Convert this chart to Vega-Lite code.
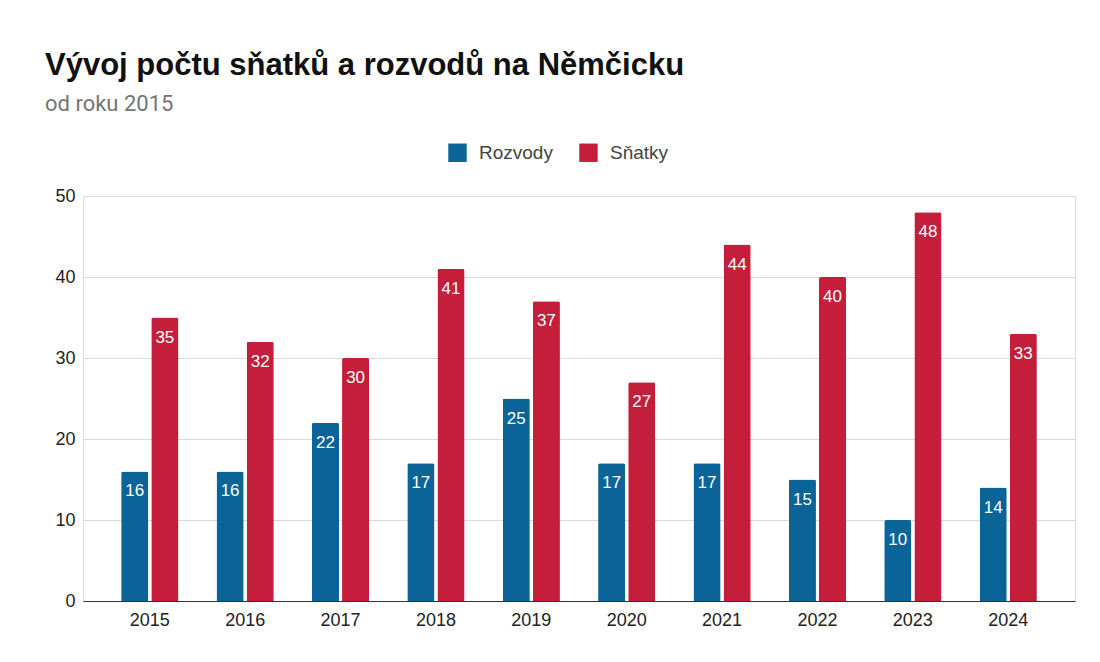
{
  "$schema": "https://vega.github.io/schema/vega-lite/v6.json",
  "autosize": "none",
  "width": 992,
  "height": 405,
  "padding": {"left": 83, "top": 196, "right": 25, "bottom": 61},
  "background": "white",
  "title": {
    "text": "Vývoj počtu sňatků a rozvodů na Němčicku",
    "subtitle": "od roku 2015",
    "anchor": "start",
    "frame": "group",
    "dx": -38,
    "offset": 27,
    "font": "Liberation Sans",
    "fontSize": 31,
    "fontWeight": "bold",
    "color": "#111111",
    "subtitleFont": "Roboto",
    "subtitleFontSize": 22,
    "subtitleColor": "#757575",
    "subtitlePadding": 12
  },
  "data": {
    "values": [
      {"rok": "2015", "typ": "Rozvody", "pocet": 16},
      {"rok": "2015", "typ": "Sňatky", "pocet": 35},
      {"rok": "2016", "typ": "Rozvody", "pocet": 16},
      {"rok": "2016", "typ": "Sňatky", "pocet": 32},
      {"rok": "2017", "typ": "Rozvody", "pocet": 22},
      {"rok": "2017", "typ": "Sňatky", "pocet": 30},
      {"rok": "2018", "typ": "Rozvody", "pocet": 17},
      {"rok": "2018", "typ": "Sňatky", "pocet": 41},
      {"rok": "2019", "typ": "Rozvody", "pocet": 25},
      {"rok": "2019", "typ": "Sňatky", "pocet": 37},
      {"rok": "2020", "typ": "Rozvody", "pocet": 17},
      {"rok": "2020", "typ": "Sňatky", "pocet": 27},
      {"rok": "2021", "typ": "Rozvody", "pocet": 17},
      {"rok": "2021", "typ": "Sňatky", "pocet": 44},
      {"rok": "2022", "typ": "Rozvody", "pocet": 15},
      {"rok": "2022", "typ": "Sňatky", "pocet": 40},
      {"rok": "2023", "typ": "Rozvody", "pocet": 10},
      {"rok": "2023", "typ": "Sňatky", "pocet": 48},
      {"rok": "2024", "typ": "Rozvody", "pocet": 14},
      {"rok": "2024", "typ": "Sňatky", "pocet": 33}
    ]
  },
  "encoding": {
    "x": {
      "field": "rok",
      "type": "nominal",
      "scale": {"paddingInner": 0.4, "paddingOuter": 0.4},
      "axis": {
        "title": null,
        "labelAngle": 0,
        "labelFont": "Liberation Sans",
        "labelFontSize": 18,
        "labelColor": "#222222",
        "labelPadding": 10,
        "ticks": false,
        "domainColor": "#333333",
        "domainWidth": 1.2,
        "grid": false
      }
    },
    "xOffset": {"field": "typ", "type": "nominal", "scale": {"paddingInner": 0.1}},
    "y": {
      "field": "pocet",
      "type": "quantitative",
      "scale": {"domain": [0, 50]},
      "axis": {
        "title": null,
        "values": [0, 10, 20, 30, 40, 50],
        "labelFont": "Liberation Sans",
        "labelFontSize": 18,
        "labelColor": "#222222",
        "labelPadding": 8,
        "ticks": false,
        "domain": false,
        "gridColor": "#d9d9d9",
        "gridWidth": 1.2
      }
    }
  },
  "layer": [
    {
      "mark": {"type": "bar", "cornerRadiusTopLeft": 2, "cornerRadiusTopRight": 2},
      "encoding": {
        "color": {
          "field": "typ",
          "type": "nominal",
          "scale": {"domain": ["Rozvody", "Sňatky"], "range": ["#0a6497", "#c41e3a"]},
          "legend": {
            "title": null,
            "orient": "none",
            "direction": "horizontal",
            "legendX": 365,
            "legendY": -53,
            "symbolType": "square",
            "symbolSize": 340,
            "symbolStrokeWidth": 0,
            "symbolOpacity": 1,
            "labelFont": "Liberation Sans",
            "labelFontSize": 19,
            "labelColor": "#444444",
            "labelOffset": 12,
            "columnPadding": 26
          }
        }
      }
    },
    {
      "mark": {"type": "text", "color": "white", "font": "Liberation Sans", "fontSize": 17, "baseline": "middle", "dy": 20},
      "encoding": {
        "text": {"field": "pocet", "type": "quantitative"}
      }
    }
  ]
}
